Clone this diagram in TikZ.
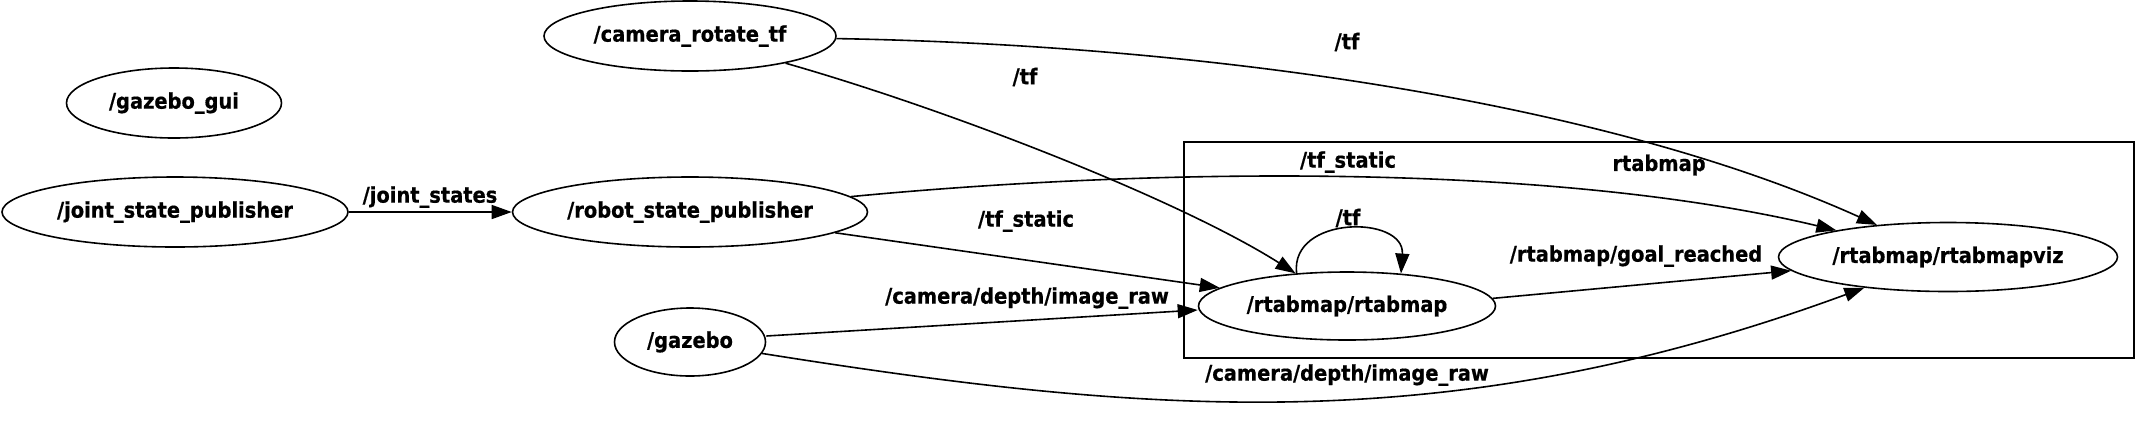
\documentclass[tikz,border=0pt]{standalone}
\usepackage{fontspec}
\setmainfont[BoldFeatures={FakeBold=0.6}]{DejaVu Sans Condensed}
\usetikzlibrary{shapes.geometric,arrows.meta}

\begin{document}
\begin{tikzpicture}[x=0.5pt, y=-0.5pt,
  font=\fontsize{10.8}{12}\selectfont\bfseries,
  rosnode/.style={draw, ellipse, inner sep=0pt, line width=0.8pt, minimum height=35pt},
  topic/.style={inner sep=0pt},
  pub/.style={line width=0.8pt, -{Triangle[length=10pt, width=7pt]}}]
\useasboundingbox (0,0) rectangle (2136,430);

% Cluster
\draw[line width=1pt] (1184,142) rectangle (2134,358);
\node[topic] (lblcluster) at (1659,165) {rtabmap};

% Nodes
\node[rosnode, minimum width=146pt] (cam) at (690,36) {/camera\_rotate\_tf};
\node[rosnode, minimum width=107.5pt] (gzgui) at (174,103) {/gazebo\_gui};
\node[rosnode, minimum width=173pt] (jsp) at (175,212) {/joint\_state\_publisher};
\node[rosnode, minimum width=177.5pt] (rsp) at (690,212) {/robot\_state\_publisher};
\node[rosnode, minimum width=75.5pt, minimum height=34pt] (gz) at (690,342) {/gazebo};
\node[rosnode, minimum width=148.5pt, minimum height=34pt] (rtab) at (1347,306) {/rtabmap/rtabmap};
\node[rosnode, minimum width=169.5pt, minimum height=34.5pt] (viz) at (1948,257) {/rtabmap/rtabmapviz};

% Edges
\draw[pub] (jsp) -- (rsp);
\draw[pub] (cam) .. controls (1200,45) and (1600,100) .. (viz);
\draw[pub] (cam) .. controls (950,110) and (1180,200) .. (rtab);
\draw[pub] (rsp) .. controls (1150,168) and (1550,162) .. (viz);
\draw[pub] (rsp) -- (rtab);
\draw[pub] ([yshift=3pt]gz.east) -- ([yshift=-2pt]rtab.west);
\draw[pub] (gz) .. controls (1150,415) and (1450,440) .. (viz);
\draw[pub] (rtab.3) -- (viz.185);
\draw[pub] (rtab.147) .. controls (1290,215) and (1405,215) .. (rtab.31);  % loop

% Topic labels
\node[topic] (lbljoint) at (430,197) {/joint\_states};
\node[topic] (lbltfa) at (1025,77) {/tf};
\node[topic] (lbltfb) at (1347,42) {/tf};
\node[topic] (lblstatica) at (1026,221) {/tf\_static};
\node[topic] (lblstaticb) at (1348,162) {/tf\_static};
\node[topic] (lbldeptha) at (1027,298) {/camera/depth/image\_raw};
\node[topic] (lbldepthb) at (1347,375) {/camera/depth/image\_raw};
\node[topic] (lbltfloop) at (1348,218) {/tf};
\node[topic] (lblgoal) at (1636,256) {/rtabmap/goal\_reached};

\end{tikzpicture}
\end{document}
